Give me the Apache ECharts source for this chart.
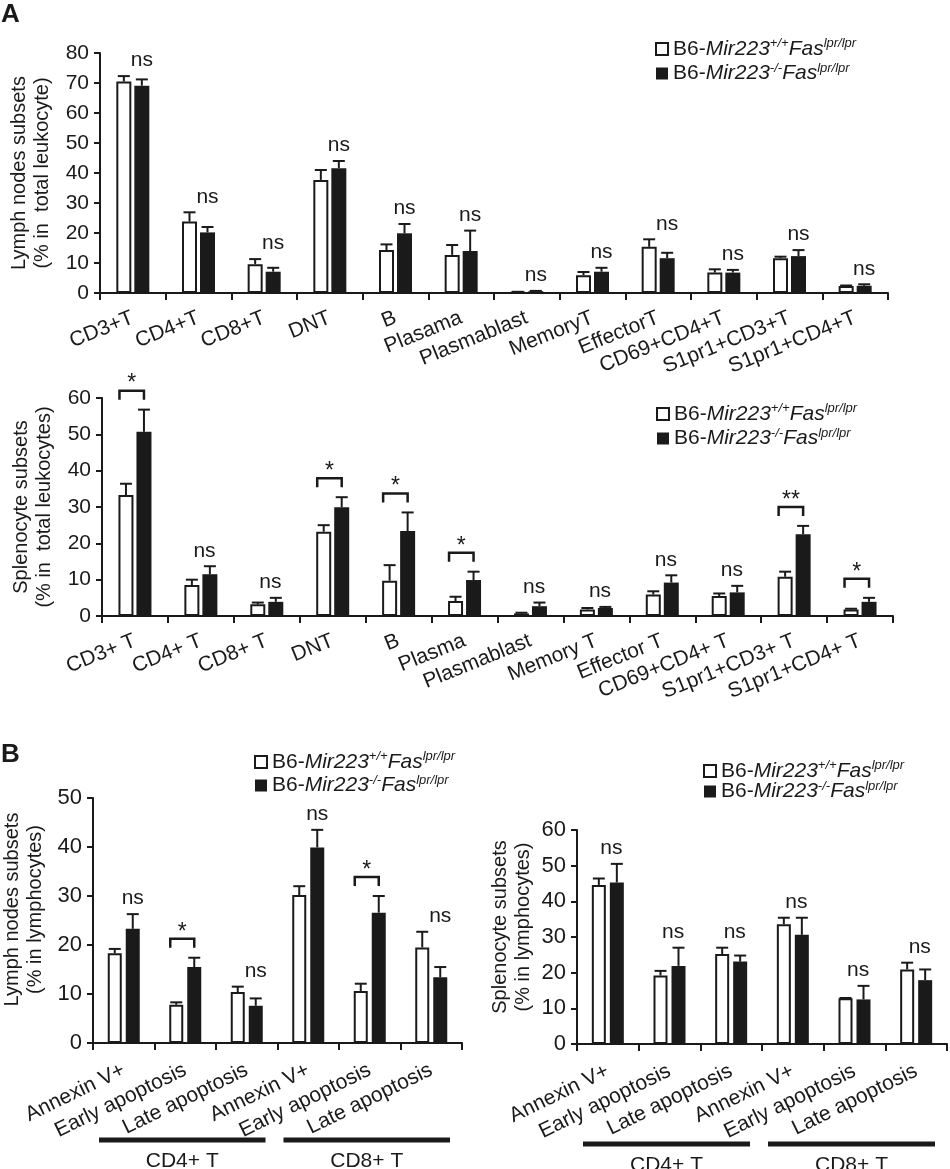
<!DOCTYPE html>
<html>
<head>
<meta charset="utf-8">
<script src="https://cdn.jsdelivr.net/npm/echarts@6/dist/echarts.min.js"></script>
<style>
html,body{margin:0;padding:0;background:#fff;}
#main{width:950px;height:1169px;}
</style>
</head>
<body>
<div id="main"></div>
<script>
// ---- data ----
var catA1 = ['CD3+T','CD4+T','CD8+T','DNT','B','Plasama','Plasmablast','MemoryT','EffectorT','CD69+CD4+T','S1pr1+CD3+T','S1pr1+CD4+T'];
var a1Wt    = [70.5, 23.8, 9.6, 37.7, 14.3, 12.7, 0.3, 5.9, 15.4, 6.8, 11.6, 2.3];
var a1WtErr = [1.8, 3.1, 1.7, 3.3, 1.9, 3.3, 0.1, 1.1, 2.5, 1.1, 0.5, 0.2];
var a1Ko    = [69.1, 20.2, 7.1, 41.6, 19.9, 14.0, 0.6, 7.1, 11.6, 6.8, 12.3, 2.4];
var a1KoErr = [2.1, 1.8, 1.3, 2.4, 3.1, 6.8, 0.1, 1.3, 1.8, 0.9, 2.0, 0.5];
var a1Sig   = ['ns','ns','ns','ns','ns','ns','ns','ns','ns','ns','ns','ns'];

var catA2 = ['CD3+ T','CD4+ T','CD8+ T','DNT','B','Plasma','Plasmablast','Memory T','Effector T','CD69+CD4+ T','S1pr1+CD3+ T','S1pr1+CD4+ T'];
var a2Wt    = [33.3, 8.5, 3.2, 23.2, 9.7, 4.1, 0.7, 1.8, 5.9, 5.5, 10.8, 1.8];
var a2WtErr = [3.1, 1.5, 0.5, 1.8, 4.3, 1.2, 0.2, 0.4, 0.9, 0.7, 1.4, 0.2];
var a2Ko    = [50.7, 11.5, 3.9, 29.9, 23.4, 9.9, 2.7, 2.2, 9.2, 6.5, 22.5, 3.9];
var a2KoErr = [6.1, 2.2, 1.1, 2.8, 5.1, 2.3, 1.0, 0.3, 2.0, 1.8, 2.3, 1.1];
var a2Sig   = ['*','ns','ns','*','*','*','ns','ns','ns','ns','**','*'];

var catB = ['Annexin V+','Early apoptosis','Late apoptosis','Annexin V+','Early apoptosis','Late apoptosis'];
var bGroups = ['CD4+ T','CD8+ T'];
var bGroupSpans = [[0,2],[3,5]];

var b1Wt    = [18.3, 7.8, 10.4, 30.2, 10.6, 19.5];
var b1WtErr = [0.9, 0.5, 1.1, 1.8, 1.5, 3.2];
var b1Ko    = [23.3, 15.5, 7.6, 39.9, 26.6, 13.4];
var b1KoErr = [3.0, 1.9, 1.5, 3.6, 3.4, 2.1];
var b1Sig   = ['ns','*','ns','ns','*','ns'];

var b2Wt    = [44.6, 19.2, 25.2, 33.6, 12.8, 20.9];
var b2WtErr = [1.8, 1.3, 1.8, 1.8, 0.1, 1.9];
var b2Ko    = [45.3, 21.9, 23.1, 30.6, 12.5, 17.9];
var b2KoErr = [5.2, 5.1, 1.7, 4.8, 3.8, 3.0];
var b2Sig   = ['ns','ns','ns','ns','ns','ns'];

var yNames = ['Lymph nodes subsets\n(% in  total leukocyte)', 'Splenocyte subsets\n(% in  total leukocytes)',
              'Lymph nodes subsets\n(% in lymphocytes)', 'Splenocyte subsets\n(% in lymphocytes)'];
var yMax = [80, 60, 50, 60];
var panelLetters = ['A', 'B'];
// legend pieces: B6-Mir223(+/+ or -/-)Fas(lpr/lpr)
var lgStrain = 'B6-', lgGene = 'Mir223', lgWt = '+/+', lgKo = '-/-', lgFas = 'Fas', lgLpr = 'lpr/lpr';

// ---- chart ----
var FONT = 'Liberation Sans, Arial, sans-serif';
var INK = '#1a1a1a';
var myChart = echarts.init(document.getElementById('main'));

var panels = [
  {cats: catA1, wt: a1Wt, wtErr: a1WtErr, ko: a1Ko, koErr: a1KoErr, sig: a1Sig,
   grid: {left: 100, top: 53, width: 788, height: 240}, bw: 15, gap: 3, rot: 22, margin: 24, nameGap: 46,
   namePad: 0, tickFont: 21, nsOnKo: true, legend: {left: 650, top: 32, gap: 2}},
  {cats: catA2, wt: a2Wt, wtErr: a2WtErr, ko: a2Ko, koErr: a2KoErr, sig: a2Sig,
   grid: {left: 102, top: 398, width: 791, height: 218}, bw: 15, gap: 3, rot: 22, margin: 24, nameGap: 46,
   namePad: 0, tickFont: 21, nsOnKo: false, legend: {left: 651, top: 397, gap: 2}},
  {cats: catB, wt: b1Wt, wtErr: b1WtErr, ko: b1Ko, koErr: b1KoErr, sig: b1Sig,
   grid: {left: 93, top: 798, width: 369, height: 245}, bw: 14, gap: 4, rot: 26, margin: 26, nameGap: 46,
   namePad: 22, tickFont: 22, nsOnKo: true, legend: {left: 249, top: 745, gap: 1}, groupY: 97},
  {cats: catB, wt: b2Wt, wtErr: b2WtErr, ko: b2Ko, koErr: b2KoErr, sig: b2Sig,
   grid: {left: 577, top: 830, width: 370, height: 214}, bw: 14, gap: 4, rot: 26, margin: 26, nameGap: 42,
   namePad: 20, tickFont: 22, nsOnKo: false, legend: {left: 698, top: 754, gap: -2}, groupY: 100}
];

function legendText(n) {
  return '{t|' + lgStrain + '}{i|' + lgGene + '}{s|' + (n === 'wt' ? lgWt : lgKo) + '}{i|' + lgFas + '}{s|' + lgLpr + '}';
}

function errRender(offset) {
  return function (params, api) {
    var p0 = api.coord([api.value(0), api.value(1)]);
    var p1 = api.coord([api.value(0), api.value(2)]);
    var x = p0[0] + offset;
    var st = {stroke: INK, lineWidth: 2};
    return {type: 'group', children: [
      {type: 'line', shape: {x1: x, y1: p0[1], x2: x, y2: p1[1]}, style: st},
      {type: 'line', shape: {x1: x - 6, y1: p1[1], x2: x + 6, y2: p1[1]}, style: st}
    ]};
  };
}

function sigRender(p) {
  var off = (p.bw + p.gap) / 2;
  return function (params, api) {
    var c = api.coord([api.value(0), api.value(1)]);
    var s = p.sig[params.dataIndex];
    if (s === 'ns') {
      return {type: 'text', x: c[0] + (p.nsOnKo ? off : off * 0.4), y: c[1] - 5,
        style: {text: s, fill: INK, font: '21px ' + FONT, align: 'center', verticalAlign: 'bottom'}};
    }
    var xl = c[0] - off - p.bw / 2 + 1, xr = c[0] + off, yt = c[1] - 19;
    return {type: 'group', children: [
      {type: 'polyline', shape: {points: [[xl, yt + 9], [xl, yt], [xr, yt], [xr, yt + 9]]},
        style: {stroke: INK, lineWidth: 2.5, fill: null}},
      {type: 'text', x: (xl + xr) / 2, y: yt + 5,
        style: {text: s, fill: INK, font: '23px ' + FONT, align: 'center', verticalAlign: 'bottom'}}
    ]};
  };
}

function groupRender(p) {
  return function (params, api) {
    var a = api.coord([api.value(0), 0]);
    var b = api.coord([api.value(1), 0]);
    var band = api.coord([1, 0])[0] - api.coord([0, 0])[0];
    var x1 = a[0] - band / 2 + 6, x2 = b[0] + band / 2 - 12, y = a[1] + p.groupY;
    return {type: 'group', children: [
      {type: 'rect', shape: {x: x1, y: y - 2.5, width: x2 - x1, height: 5}, style: {fill: INK}},
      {type: 'text', x: (x1 + x2) / 2, y: y + 21,
        style: {text: bGroups[params.dataIndex], fill: INK, font: '21px ' + FONT, align: 'center', verticalAlign: 'middle'}}
    ]};
  };
}

var grids = [], xAxes = [], yAxes = [], series = [], legends = [];
panels.forEach(function (p, k) {
  grids.push({left: p.grid.left, top: p.grid.top, width: p.grid.width, height: p.grid.height,
    containLabel: false, outerBoundsMode: 'none'});
  xAxes.push({
    type: 'category', gridIndex: k, data: p.cats, boundaryGap: true,
    axisLine: {show: true, lineStyle: {color: INK, width: 2}},
    axisTick: {show: true, length: 7, lineStyle: {color: INK, width: 2}},
    axisLabel: {interval: 0, rotate: p.rot, margin: p.margin, color: INK, fontSize: 21, fontFamily: FONT, hideOverlap: false},
    splitLine: {show: false}
  });
  yAxes.push({
    type: 'value', gridIndex: k, min: 0, max: yMax[k], interval: 10,
    name: yNames[k], nameLocation: 'middle', nameRotate: 90, nameGap: p.nameGap,
    nameTextStyle: {color: INK, fontSize: 20, lineHeight: 23, fontFamily: FONT, padding: [0, 0, 0, p.namePad]},
    axisLine: {show: true, lineStyle: {color: INK, width: 2}},
    axisTick: {show: true, length: 6, lineStyle: {color: INK, width: 2}},
    axisLabel: {margin: 11, color: INK, fontSize: p.tickFont, fontFamily: FONT},
    splitLine: {show: false}
  });
  legends.push({
    orient: 'vertical', left: p.legend.left, top: p.legend.top, icon: 'rect',
    itemWidth: 12, itemHeight: 12, itemGap: p.legend.gap, selectedMode: false,
    data: [
      {name: 'wt', itemStyle: {color: '#fff', borderColor: INK, borderWidth: 2}},
      {name: 'ko', itemStyle: {color: INK, borderColor: INK, borderWidth: 0}}
    ],
    formatter: legendText,
    textStyle: {color: INK, fontFamily: FONT, rich: {
      t: {fontSize: 21, lineHeight: 24, fontFamily: FONT, color: INK},
      i: {fontSize: 21, lineHeight: 24, fontStyle: 'italic', fontFamily: FONT, color: INK},
      s: {fontSize: 13, lineHeight: 12, fontStyle: 'italic', verticalAlign: 'top', fontFamily: FONT, color: INK}
    }}
  });
  var off = (p.bw + p.gap) / 2;
  series.push({
    name: 'wt', type: 'bar', xAxisIndex: k, yAxisIndex: k, data: p.wt,
    barWidth: p.bw, barGap: (p.gap / p.bw * 100) + '%',
    itemStyle: {color: '#fff', borderColor: INK, borderWidth: 2}, z: 2
  });
  series.push({
    name: 'ko', type: 'bar', xAxisIndex: k, yAxisIndex: k, data: p.ko,
    barWidth: p.bw, barGap: (p.gap / p.bw * 100) + '%',
    itemStyle: {color: INK, borderColor: INK, borderWidth: 0}, z: 2
  });
  series.push({
    type: 'custom', xAxisIndex: k, yAxisIndex: k, z: 3, clip: false,
    data: p.wt.map(function (v, i) { return [i, v, v + p.wtErr[i]]; }),
    renderItem: errRender(-off)
  });
  series.push({
    type: 'custom', xAxisIndex: k, yAxisIndex: k, z: 3, clip: false,
    data: p.ko.map(function (v, i) { return [i, v, v + p.koErr[i]]; }),
    renderItem: errRender(off)
  });
  series.push({
    type: 'custom', xAxisIndex: k, yAxisIndex: k, z: 4, clip: false,
    data: p.wt.map(function (v, i) { return [i, Math.max(v + p.wtErr[i], p.ko[i] + p.koErr[i])]; }),
    renderItem: sigRender(p)
  });
  if (p.groupY) {
    series.push({
      type: 'custom', xAxisIndex: k, yAxisIndex: k, z: 4, clip: false,
      data: bGroupSpans, renderItem: groupRender(p)
    });
  }
});

var option = {
  animation: false,
  backgroundColor: '#fff',
  textStyle: {fontFamily: FONT},
  grid: grids,
  xAxis: xAxes,
  yAxis: yAxes,
  legend: legends,
  series: series,
  graphic: [
    {type: 'text', left: 1, top: 2, style: {text: panelLetters[0], font: 'bold 26px ' + FONT, fill: INK}},
    {type: 'text', left: 1, top: 742, style: {text: panelLetters[1], font: 'bold 26px ' + FONT, fill: INK}}
  ]
};
myChart.setOption(option, true);

window.onresize = function () {
  myChart.resize();
};
</script>
</body>
</html>
